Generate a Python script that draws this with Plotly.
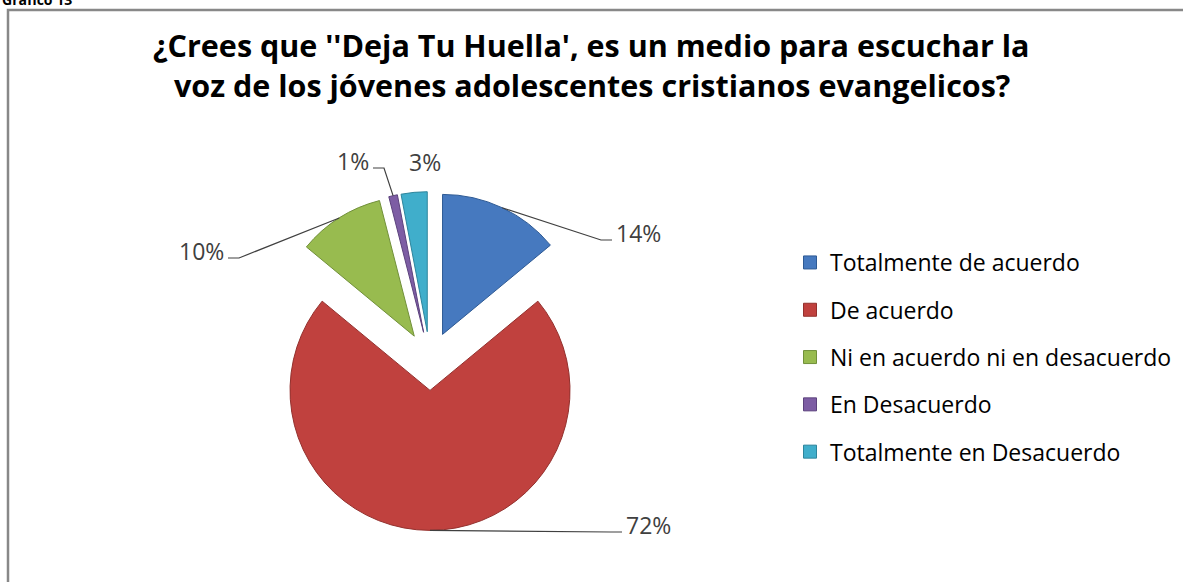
import math
import plotly.graph_objects as go

# data
categorias = ['Totalmente de acuerdo', 'De acuerdo', 'Ni en acuerdo ni en desacuerdo',
              'En Desacuerdo', 'Totalmente en Desacuerdo']
porcentajes = [14, 72, 10, 1, 3]
colores = ['#4679BF', '#C0413E', '#98BB4F', '#7D5DA4', '#40AECB']
bordes = ['#2E5A94', '#93302D', '#71903A', '#5C427D', '#2D859C']

titulo = ["¿Crees que ''Deja Tu Huella', es un medio para escuchar la",
          "voz de los jóvenes adolescentes cristianos evangelicos?"]

W, H = 1183, 582
PULL = 0.21
DOM_X = [0.2203, 0.5067]
DOM_Y = [0.0887, 0.6708]

# label placement: (edge x px, centre y px, side, draw leader line)
LABEL_POS = [(614, 233, 'left', True), (624, 525, 'left', True),
             (226, 251, 'right', True), (371, 161, 'right', True),
             (407, 162, 'left', False)]
TITLE_Y = [45, 85]

C_TEXT = '#404040'
FONT = 'Open Sans, Noto Sans, sans-serif'


def px2paper(x, y):
    return x / W, 1 - y / H


fig = go.Figure(go.Pie(
    labels=categorias, values=porcentajes, sort=False,
    direction='clockwise', rotation=0, pull=PULL,
    marker=dict(colors=colores, line=dict(color=bordes, width=1)),
    textinfo='none', showlegend=False,
    domain=dict(x=DOM_X, y=DOM_Y),
    hovertemplate='%{label}<br>%{percent}<extra></extra>',
))

# legend entries (one per category so rows can be spaced like the original)
for cat, col, b in zip(categorias, colores, bordes):
    fig.add_trace(go.Scatter(
        x=[None], y=[None], mode='markers', name=cat, legendgroup=cat,
        marker=dict(symbol='square', size=13, color=col, line=dict(color=b, width=1)),
    ))

# pie geometry as plotly computes it
box_w = W * (DOM_X[1] - DOM_X[0])
box_h = H * (DOM_Y[1] - DOM_Y[0])
r = min(box_w, box_h) / 2 / (1 + PULL)
cx = W * (DOM_X[0] + DOM_X[1]) / 2
cy = H * (1 - DOM_Y[0]) - box_h / 2

total = sum(porcentajes)
acum = 0
shapes = []
annotations = []
for v, (lx, ly, side, leader) in zip(porcentajes, LABEL_POS):
    ang = math.radians(360 * (acum + v / 2) / total)
    acum += v
    ex = cx + (1 + PULL) * r * math.sin(ang)
    ey = cy - (1 + PULL) * r * math.cos(ang)
    if leader:
        sgn = -1 if side == 'left' else 1
        elbow = (lx + sgn * 13, ly + 7)
        end = (lx + sgn * 2, ly + 7)
        x0, y0 = px2paper(ex, ey)
        x1, y1 = px2paper(*elbow)
        x2, y2 = px2paper(*end)
        shapes.append(dict(type='path', xref='paper', yref='paper',
                           path=f'M{x0},{y0} L{x1},{y1} L{x2},{y2}',
                           line=dict(color=C_TEXT, width=1.2)))
    ax, ay = px2paper(lx, ly)
    annotations.append(dict(text=f'{v}%', x=ax, y=ay, xref='paper', yref='paper',
                            xanchor=side, yanchor='middle', showarrow=False,
                            font=dict(family=FONT, size=23, color=C_TEXT)))

for linea, ty in zip(titulo, TITLE_Y):
    annotations.append(dict(text=f'<b>{linea}</b>', x=0.5, y=1 - ty / H,
                            xref='paper', yref='paper', xanchor='center', yanchor='middle',
                            showarrow=False,
                            font=dict(family=FONT, size=30.5, color='#000000')))

annotations.append(dict(text='<b>Gráfico 13</b>', x=0, y=1 - 11 / H, xref='paper', yref='paper',
                        xanchor='left', yanchor='bottom', showarrow=False,
                        font=dict(family=FONT, size=14, color='#000000')))

# chart frame
fx, fy = px2paper(8, 10)
shapes.append(dict(type='rect', xref='paper', yref='paper', x0=fx, y0=-0.1, x1=1.1, y1=fy,
                   line=dict(color='#888888', width=2.5), layer='below'))

fig.update_layout(
    width=W, height=H,
    paper_bgcolor='white', plot_bgcolor='white',
    margin=dict(l=0, r=0, t=0, b=0),
    font=dict(family=FONT, color='#000000'),
    xaxis=dict(visible=False), yaxis=dict(visible=False),
    legend=dict(x=790 / W, y=1 - 241 / H, xanchor='left', yanchor='top',
                font=dict(family=FONT, size=23, color='#000000'),
                tracegroupgap=14.4, itemsizing='trace', bgcolor='rgba(0,0,0,0)'),
    shapes=shapes, annotations=annotations,
    showlegend=True,
)

fig.write_html('out.html', config=dict(displayModeBar=False),
               post_script="document.body.style.margin='0';")
